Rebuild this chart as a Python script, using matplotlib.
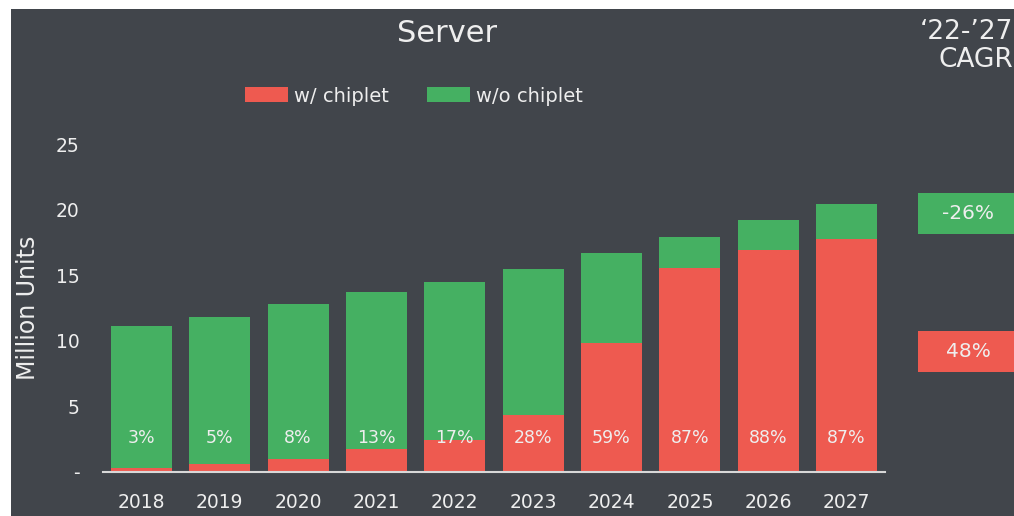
import matplotlib.pyplot as plt
from matplotlib.patches import Rectangle

years = ["2018", "2019", "2020", "2021", "2022", "2023", "2024", "2025", "2026", "2027"]
totals = [11.1, 11.8, 12.8, 13.7, 14.5, 15.5, 16.7, 17.9, 19.2, 20.4]
chiplet_share = [3, 5, 8, 13, 17, 28, 59, 87, 88, 87]
cagr_labels = ["-26%", "48%"]
yticks = [0, 5, 10, 15, 20, 25]
ytick_labels = ["-", "5", "10", "15", "20", "25"]

with_chiplet = [t * s / 100 for t, s in zip(totals, chiplet_share)]
without_chiplet = [t - w for t, w in zip(totals, with_chiplet)]

BG = "#41454b"
RED = "#ee5a50"
GREEN = "#45b062"
TXT = "#eeeeee"
FONT = "DejaVu Sans"
plt.rcParams["font.family"] = FONT

W, H = 1014, 516
fig = plt.figure(figsize=(W / 100, H / 100), dpi=100, facecolor="white")
# dark panel with a thin white margin on the top and left
fig.patches.append(Rectangle((11 / W, 0), 1 - 11 / W, 1 - 9 / H, transform=fig.transFigure,
                             facecolor=BG, edgecolor="none", zorder=-10))

ax_l, ax_r = 103 / W, 885 / W
ax_b, ax_t = 1 - 472 / H, 1 - 144 / H
ax = fig.add_axes([ax_l, ax_b, ax_r - ax_l, ax_t - ax_b])
ax.set_facecolor("none")
ax.set_zorder(2)

x = list(range(len(years)))
ax.bar(x, with_chiplet, width=0.78, color=RED, label="w/ chiplet", zorder=2)
ax.bar(x, without_chiplet, width=0.78, bottom=with_chiplet, color=GREEN,
       label="w/o chiplet", zorder=2)

for xi, s in zip(x, chiplet_share):
    ax.text(xi, 2.6, f"{s}%", ha="center", va="center", color=TXT, fontsize=12.5, zorder=3)

ax.set_xlim(-0.49, 9.49)
ax.set_ylim(0, 25)
ax.set_xticks(x)
ax.set_xticklabels(years, color=TXT, fontsize=13.5)
ax.set_yticks(yticks)
ax.set_yticklabels(ytick_labels, color=TXT, fontsize=13.5)
ax.tick_params(axis="both", length=0)
ax.tick_params(axis="x", pad=15)
ax.tick_params(axis="y", pad=17)
for side in ["top", "right", "left"]:
    ax.spines[side].set_visible(False)
ax.spines["bottom"].set_color("#d8d8d8")
ax.spines["bottom"].set_linewidth(1.5)
ax.spines["bottom"].set_zorder(4)

fig.text(28 / W, 1 - 308 / H, "Million Units", rotation=90, ha="center", va="center",
         color=TXT, fontsize=17)
fig.text(447 / W, 1 - 34 / H, "Server", ha="center", va="center", color=TXT, fontsize=22)

leg = fig.legend(loc="center", bbox_to_anchor=(414 / W, 1 - 96 / H), ncol=2, frameon=False,
                 fontsize=14, handlelength=2.2, handleheight=0.8, handletextpad=0.3,
                 columnspacing=2.0, labelcolor=TXT)

fig.text(1013 / W, 1 - 46 / H, "\u201822-\u201927\nCAGR", ha="right", va="center",
         color=TXT, fontsize=19, linespacing=1.1)

# CAGR badges
for (y0, y1), col, lab in [((193, 234), GREEN, cagr_labels[0]),
                           ((331, 372), RED, cagr_labels[1])]:
    fig.patches.append(Rectangle((918 / W, 1 - y1 / H), (W - 918) / W, (y1 - y0) / H,
                                 transform=fig.transFigure, facecolor=col,
                                 edgecolor="none", zorder=1))
    fig.text(968 / W, 1 - (y0 + y1) / 2 / H, lab, ha="center", va="center",
             color=TXT, fontsize=14.5, zorder=2)

fig.savefig("out.png", dpi=100, facecolor=fig.get_facecolor())
